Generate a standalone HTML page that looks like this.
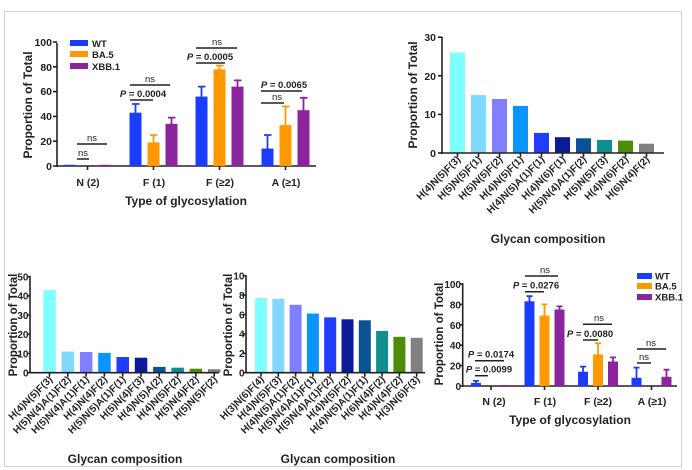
<!DOCTYPE html>
<html><head><meta charset="utf-8"><style>
html,body{margin:0;padding:0;background:#fff;}
svg{display:block;font-family:"Liberation Sans",Arial,sans-serif;font-weight:bold;}
</style></head><body>
<svg width="692" height="470" viewBox="0 0 692 470" xmlns="http://www.w3.org/2000/svg">
<rect x="4.5" y="11.5" width="677" height="455" fill="none" stroke="#d0d0d0" stroke-width="1"/>

<!-- Chart 1 -->
<g fill="#222" font-size="10.5">
<g stroke="#222" stroke-width="1.6">
<line x1="57" y1="43" x2="57" y2="167"/><line x1="56" y1="166" x2="316" y2="166"/>
<line x1="53" y1="166" x2="57" y2="166"/><line x1="53" y1="141.2" x2="57" y2="141.2"/><line x1="53" y1="116.4" x2="57" y2="116.4"/><line x1="53" y1="91.6" x2="57" y2="91.6"/><line x1="53" y1="66.8" x2="57" y2="66.8"/><line x1="53" y1="42" x2="57" y2="42"/>
<line x1="87.5" y1="166" x2="87.5" y2="170"/><line x1="153.5" y1="166" x2="153.5" y2="170"/><line x1="219.5" y1="166" x2="219.5" y2="170"/><line x1="285.5" y1="166" x2="285.5" y2="170"/>
</g>
<g text-anchor="end"><text x="52" y="170">0</text><text x="52" y="145">20</text><text x="52" y="120">40</text><text x="52" y="95">60</text><text x="52" y="71">80</text><text x="52" y="46">100</text></g>
<g text-anchor="middle"><text x="88" y="186">N (2)</text><text x="154" y="186">F (1)</text><text x="220" y="186">F (≥2)</text><text x="286" y="186">A (≥1)</text></g>
<text x="186" y="205" text-anchor="middle" font-size="12">Type of glycosylation</text>
<text transform="translate(32,105) rotate(-90)" text-anchor="middle" font-size="12">Proportion of Total</text>
<rect x="63.5" y="164.8" width="12" height="1.2" fill="#1a3cff"/><rect x="99.5" y="164.8" width="12" height="1.2" fill="#8b259e"/>
<rect x="129.5" y="112.7" width="12" height="53.3" fill="#1a3cff"/><rect x="147.5" y="142.4" width="12" height="23.6" fill="#ff9900"/><rect x="165.5" y="123.8" width="12" height="42.2" fill="#8b259e"/>
<rect x="195.5" y="96.6" width="12" height="69.4" fill="#1a3cff"/><rect x="213.5" y="69.3" width="12" height="96.7" fill="#ff9900"/><rect x="231.5" y="86.6" width="12" height="79.4" fill="#8b259e"/>
<rect x="261.5" y="148.6" width="12" height="17.4" fill="#1a3cff"/><rect x="279.5" y="125.1" width="12" height="40.9" fill="#ff9900"/><rect x="297.5" y="110.2" width="12" height="55.8" fill="#8b259e"/>
<g stroke-width="1.8" fill="none">
<path d="M135.5 113V104M132 104H139.5" stroke="#1a3cff"/><path d="M153.5 143V135M150 135H157.5" stroke="#ff9900"/><path d="M171.5 124V117.6M168 117.6H175.5" stroke="#8b259e"/>
<path d="M201.5 97V86.6M198 86.6H205.5" stroke="#1a3cff"/><path d="M219.5 70V65.6M216 65.6H223.5" stroke="#ff9900"/><path d="M237.5 87V80.4M234 80.4H241.5" stroke="#8b259e"/>
<path d="M267.5 149V135M264 135H271.5" stroke="#1a3cff"/><path d="M285.5 126V106.5M282 106.5H289.5" stroke="#ff9900"/><path d="M303.5 111V97.8M300 97.8H307.5" stroke="#8b259e"/>
</g>
<g stroke="#222" stroke-width="1.5">
<line x1="77" y1="159" x2="89" y2="159"/><line x1="77" y1="144" x2="107" y2="144"/>
<line x1="130" y1="100" x2="153" y2="100"/><line x1="130" y1="85" x2="170" y2="85"/>
<line x1="196" y1="63" x2="225" y2="63"/><line x1="196" y1="48" x2="237" y2="48"/>
<line x1="261" y1="103" x2="284" y2="103"/><line x1="261" y1="91" x2="302" y2="91"/>
</g>
<g font-size="9.5" font-weight="normal" text-anchor="middle">
<text x="83" y="156">ns</text><text x="92" y="141">ns</text>
<text x="150" y="82">ns</text><text x="217" y="45">ns</text><text x="277" y="100">ns</text>
</g>
<g font-size="9.5" text-anchor="middle">
<text x="143" y="97"><tspan font-style="italic">P</tspan> = 0.0004</text>
<text x="210" y="60"><tspan font-style="italic">P</tspan> = 0.0005</text>
<text x="284" y="88"><tspan font-style="italic">P</tspan> = 0.0065</text>
</g>
<rect x="70" y="40" width="18" height="6" fill="#1a3cff"/><rect x="70" y="51" width="18" height="6" fill="#ff9900"/><rect x="70" y="63" width="18" height="6" fill="#8b259e"/>
<g font-size="9.5"><text x="92" y="47">WT</text><text x="92" y="58">BA.5</text><text x="92" y="70">XBB.1</text></g>
</g>

<!-- Chart 2 -->
<g fill="#222" font-size="10.5">
<rect x="450" y="52.6" width="15" height="100.4" fill="#7fffff"/>
<rect x="471" y="95.1" width="15" height="57.9" fill="#80d8ff"/>
<rect x="492" y="99" width="15" height="54" fill="#8080ff"/>
<rect x="513" y="105.9" width="15" height="47.1" fill="#0a94ff"/>
<rect x="534" y="132.9" width="15" height="20.1" fill="#1f3cff"/>
<rect x="555" y="137.2" width="15" height="15.8" fill="#0a1a99"/>
<rect x="576" y="138.3" width="15" height="14.7" fill="#0b5394"/>
<rect x="597" y="139.9" width="15" height="13.1" fill="#0f9090"/>
<rect x="618" y="140.6" width="15" height="12.4" fill="#4d8c0a"/>
<rect x="639" y="143.7" width="15" height="9.3" fill="#808080"/>
<g stroke="#222" stroke-width="1.6">
<line x1="442" y1="37" x2="442" y2="154"/><line x1="441" y1="153" x2="664" y2="153"/>
<line x1="438" y1="153" x2="442" y2="153"/><line x1="438" y1="114.4" x2="442" y2="114.4"/><line x1="438" y1="75.8" x2="442" y2="75.8"/><line x1="438" y1="37.2" x2="442" y2="37.2"/>
<path d="M457.5 153v4M478.5 153v4M499.5 153v4M520.5 153v4M541.5 153v4M562.5 153v4M583.5 153v4M604.5 153v4M625.5 153v4M646.5 153v4"/>
</g>
<g text-anchor="end"><text x="436" y="157">0</text><text x="436" y="118">10</text><text x="436" y="80">20</text><text x="436" y="41">30</text></g>
<g text-anchor="end" font-size="10">
<text transform="translate(461,160) rotate(-45)">H(4)N(5)F(3)</text>
<text transform="translate(482,160) rotate(-45)">H(5)N(5)F(1)</text>
<text transform="translate(503,160) rotate(-45)">H(5)N(5)F(2)</text>
<text transform="translate(524,160) rotate(-45)">H(4)N(5)F(1)</text>
<text transform="translate(545,160) rotate(-45)">H(4)N(5)A(1)F(1)</text>
<text transform="translate(566,160) rotate(-45)">H(4)N(6)F(1)</text>
<text transform="translate(587,160) rotate(-45)">H(5)N(4)A(1)F(2)</text>
<text transform="translate(608,160) rotate(-45)">H(5)N(5)F(3)</text>
<text transform="translate(629,160) rotate(-45)">H(4)N(6)F(2)</text>
<text transform="translate(650,160) rotate(-45)">H(6)N(4)F(2)</text>
</g>
<text x="548" y="243" text-anchor="middle" font-size="12">Glycan composition</text>
<text transform="translate(417,95) rotate(-90)" text-anchor="middle" font-size="12">Proportion of Total</text>
</g>

<!-- Chart 3 -->
<g fill="#222" font-size="9.5">
<rect x="43.3" y="290.1" width="12.5" height="82.6" fill="#7fffff"/>
<rect x="61.6" y="351.6" width="12.5" height="21.1" fill="#80d8ff"/>
<rect x="79.9" y="352" width="12.5" height="20.7" fill="#8080ff"/>
<rect x="98.2" y="352.9" width="12.5" height="19.8" fill="#0a94ff"/>
<rect x="116.5" y="357" width="12.5" height="15.7" fill="#1f3cff"/>
<rect x="134.8" y="357.7" width="12.5" height="15" fill="#0a1a99"/>
<rect x="153.1" y="366.9" width="12.5" height="5.8" fill="#0b5394"/>
<rect x="171.4" y="367.7" width="12.5" height="5" fill="#0f9090"/>
<rect x="189.7" y="368.7" width="12.5" height="4" fill="#4d8c0a"/>
<rect x="208" y="369.2" width="12.5" height="3.5" fill="#808080"/>
<g stroke="#222" stroke-width="1.6">
<line x1="30" y1="276" x2="30" y2="373.5"/><line x1="29" y1="372.7" x2="219" y2="372.7"/>
<path d="M27 372.7h3M27 353.5h3M27 334.3h3M27 315.1h3M27 295.9h3M27 276.7h3"/>
<path d="M49.5 372.7v4M67.8 372.7v4M86.1 372.7v4M104.4 372.7v4M122.7 372.7v4M141 372.7v4M159.3 372.7v4M177.6 372.7v4M195.9 372.7v4M214.2 372.7v4"/>
</g>
<g text-anchor="end" font-size="10"><text x="28.5" y="376.5">0</text><text x="28.5" y="357.3">10</text><text x="28.5" y="338">20</text><text x="28.5" y="319">30</text><text x="28.5" y="299.7">40</text><text x="28.5" y="280.5">50</text></g>
<g text-anchor="end" font-size="10">
<text transform="translate(53,380) rotate(-45)">H(4)N(5)F(3)</text>
<text transform="translate(71.3,380) rotate(-45)">H(5)N(4)A(1)F(2)</text>
<text transform="translate(89.6,380) rotate(-45)">H(5)N(4)A(1)F(1)</text>
<text transform="translate(107.9,380) rotate(-45)">H(4)N(4)F(2)</text>
<text transform="translate(126.2,380) rotate(-45)">H(5)N(5)A(1)F(1)</text>
<text transform="translate(144.5,380) rotate(-45)">H(5)N(4)F(3)</text>
<text transform="translate(162.8,380) rotate(-45)">H(4)N(5)A(2)</text>
<text transform="translate(181.1,380) rotate(-45)">H(4)N(5)F(2)</text>
<text transform="translate(199.4,380) rotate(-45)">H(5)N(4)F(2)</text>
<text transform="translate(217.7,380) rotate(-45)">H(5)N(5)F(2)</text>
</g>
<text x="125" y="463" text-anchor="middle" font-size="12">Glycan composition</text>
<text transform="translate(17,325) rotate(-90)" text-anchor="middle" font-size="11.5">Proportion of Total</text>
</g>

<!-- Chart 4 -->
<g fill="#222" font-size="10">
<rect x="255" y="298" width="12" height="74.7" fill="#7fffff"/>
<rect x="272.3" y="299" width="12" height="73.7" fill="#80d8ff"/>
<rect x="289.6" y="304.8" width="12" height="67.9" fill="#8080ff"/>
<rect x="306.9" y="313.5" width="12" height="59.2" fill="#0a94ff"/>
<rect x="324.2" y="317.4" width="12" height="55.3" fill="#1f3cff"/>
<rect x="341.5" y="319.3" width="12" height="53.4" fill="#0a1a99"/>
<rect x="358.8" y="320.3" width="12" height="52.4" fill="#0b5394"/>
<rect x="376.1" y="331" width="12" height="41.7" fill="#0f9090"/>
<rect x="393.4" y="336.8" width="12" height="35.9" fill="#4d8c0a"/>
<rect x="410.7" y="337.8" width="12" height="34.9" fill="#808080"/>
<g stroke="#222" stroke-width="1.6">
<line x1="246" y1="275" x2="246" y2="373.5"/><line x1="245" y1="372.7" x2="425" y2="372.7"/>
<path d="M243 372.7h3M243 353.3h3M243 333.9h3M243 314.5h3M243 295.1h3M243 275.7h3"/>
<path d="M261 372.7v4M278.3 372.7v4M295.6 372.7v4M312.9 372.7v4M330.2 372.7v4M347.5 372.7v4M364.8 372.7v4M382.1 372.7v4M399.4 372.7v4M416.7 372.7v4"/>
</g>
<g text-anchor="end"><text x="244.5" y="376.5">0</text><text x="244.5" y="357">2</text><text x="244.5" y="337.7">4</text><text x="244.5" y="318.3">6</text><text x="244.5" y="299">8</text><text x="244.5" y="279.5">10</text></g>
<g text-anchor="end" font-size="10">
<text transform="translate(264.5,380) rotate(-45)">H(3)N(6)F(4)</text>
<text transform="translate(281.8,380) rotate(-45)">H(4)N(5)F(3)</text>
<text transform="translate(299.1,380) rotate(-45)">H(4)N(5)A(1)F(2)</text>
<text transform="translate(316.4,380) rotate(-45)">H(5)N(4)A(1)F(1)</text>
<text transform="translate(333.7,380) rotate(-45)">H(5)N(4)A(1)F(2)</text>
<text transform="translate(351,380) rotate(-45)">H(4)N(5)F(2)</text>
<text transform="translate(368.3,380) rotate(-45)">H(4)N(5)A(1)F(1)</text>
<text transform="translate(385.6,380) rotate(-45)">H(6)N(4)F(2)</text>
<text transform="translate(402.9,380) rotate(-45)">H(4)N(4)F(2)</text>
<text transform="translate(420.2,380) rotate(-45)">H(3)N(6)F(3)</text>
</g>
<text x="338" y="463" text-anchor="middle" font-size="12">Glycan composition</text>
<text transform="translate(232,325) rotate(-90)" text-anchor="middle" font-size="11.5">Proportion of Total</text>
</g>

<!-- Chart 5 -->
<g fill="#222" font-size="10.5">
<g stroke="#222" stroke-width="1.6">
<line x1="462.7" y1="283" x2="462.7" y2="387"/><line x1="462" y1="386" x2="677" y2="386"/>
<path d="M459.7 386h3M459.7 365.6h3M459.7 345.2h3M459.7 324.8h3M459.7 304.4h3M459.7 284h3"/>
<path d="M491 386v4M544.5 386v4M598 386v4M651.5 386v4"/>
</g>
<g text-anchor="end" font-size="10"><text x="461" y="390">0</text><text x="461" y="369.6">20</text><text x="461" y="349.2">40</text><text x="461" y="328.8">60</text><text x="461" y="308.4">80</text><text x="461" y="288">100</text></g>
<g text-anchor="middle"><text x="494" y="405">N (2)</text><text x="545" y="405">F (1)</text><text x="598" y="405">F (≥2)</text><text x="652" y="405">A (≥1)</text></g>
<text x="570" y="424" text-anchor="middle" font-size="12">Type of glycosylation</text>
<text transform="translate(443,334) rotate(-90)" text-anchor="middle" font-size="11.5">Proportion of Total</text>
<rect x="471" y="382.9" width="10" height="3.1" fill="#1a3cff"/><rect x="501" y="385" width="10" height="1" fill="#8b259e"/>
<rect x="524.5" y="301.3" width="10" height="84.7" fill="#1a3cff"/><rect x="539.5" y="315.6" width="10" height="70.4" fill="#ff9900"/><rect x="554.5" y="309.5" width="10" height="76.5" fill="#8b259e"/>
<rect x="578" y="371.7" width="10" height="14.3" fill="#1a3cff"/><rect x="593" y="354.4" width="10" height="31.6" fill="#ff9900"/><rect x="608" y="361.5" width="10" height="24.5" fill="#8b259e"/>
<rect x="631.5" y="377.8" width="10" height="8.2" fill="#1a3cff"/><rect x="661.5" y="376.8" width="10" height="9.2" fill="#8b259e"/>
<g stroke-width="1.8" fill="none">
<path d="M476 383V380.9M473 380.9H479" stroke="#1a3cff"/>
<path d="M529.5 302V296.2M526.5 296.2H532.5" stroke="#1a3cff"/><path d="M544.5 316V304.4M541.5 304.4H547.5" stroke="#ff9900"/><path d="M559.5 310V306.4M556.5 306.4H562.5" stroke="#8b259e"/>
<path d="M583 372V366.6M580 366.6H586" stroke="#1a3cff"/><path d="M598 355V343.2M595 343.2H601" stroke="#ff9900"/><path d="M613 362V357.4M610 357.4H616" stroke="#8b259e"/>
<path d="M636.5 378V367.6M633.5 367.6H639.5" stroke="#1a3cff"/><path d="M666.5 377V369.7M663.5 369.7H669.5" stroke="#8b259e"/>
</g>
<g stroke="#222" stroke-width="1.5">
<line x1="475" y1="375.7" x2="488" y2="375.7"/><line x1="475" y1="360.7" x2="504" y2="360.7"/>
<line x1="525" y1="291.7" x2="544" y2="291.7"/><line x1="525" y1="276" x2="558" y2="276"/>
<line x1="583" y1="340" x2="598" y2="340"/><line x1="583" y1="324.3" x2="612" y2="324.3"/>
<line x1="637" y1="363" x2="651" y2="363"/><line x1="637" y1="349" x2="666" y2="349"/>
</g>
<g font-size="9.5" font-weight="normal" text-anchor="middle">
<text x="545" y="273">ns</text><text x="599" y="321">ns</text><text x="644" y="360">ns</text><text x="651" y="346">ns</text>
</g>
<g font-size="9.5" text-anchor="middle">
<text x="489" y="372.5"><tspan font-style="italic">P</tspan> = 0.0099</text>
<text x="491" y="357.5"><tspan font-style="italic">P</tspan> = 0.0174</text>
<text x="536" y="288.5"><tspan font-style="italic">P</tspan> = 0.0276</text>
<text x="590" y="337"><tspan font-style="italic">P</tspan> = 0.0080</text>
</g>
<rect x="637" y="273" width="15" height="6" fill="#1a3cff"/><rect x="637" y="283" width="15" height="6" fill="#ff9900"/><rect x="637" y="294" width="15" height="6" fill="#8b259e"/>
<g font-size="9.5"><text x="655" y="279.5">WT</text><text x="655" y="289.5">BA.5</text><text x="655" y="300.5">XBB.1</text></g>
</g>
</svg>
</body></html>
